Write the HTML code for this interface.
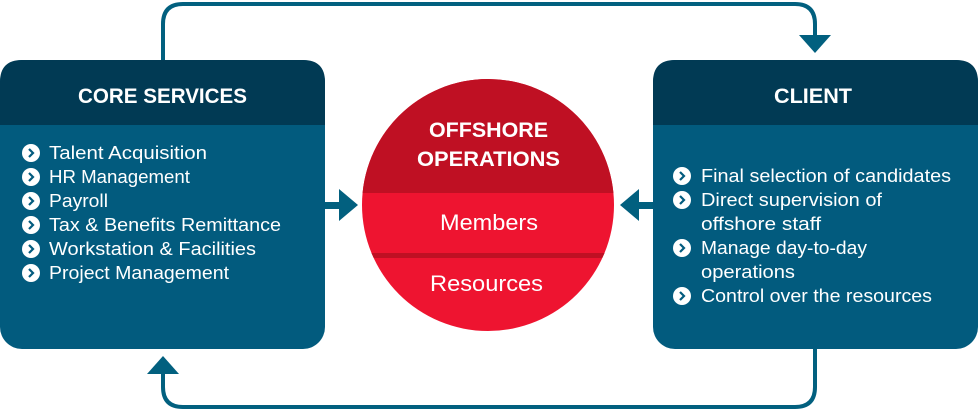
<!DOCTYPE html>
<html><head><meta charset="utf-8"><style>
html,body{margin:0;padding:0;background:#fff;}
svg{display:block;}
text{font-family:"Liberation Sans",sans-serif;fill:#fff;}
.h{font-weight:bold;font-size:21px;}
.i{font-size:18px;}
</style></head><body>
<svg width="978" height="411" viewBox="0 0 978 411" xmlns="http://www.w3.org/2000/svg">
<defs>
<clipPath id="c"><circle cx="488" cy="205" r="126"/></clipPath>
<g id="chev"><circle r="9" fill="#fff"/><path d="M-2,-4 L2,0 L-2,4" stroke="#025b7e" stroke-width="2.2" fill="none"/></g>
</defs>
<path d="M163,60 V24 Q163,4 183,4 H795 Q815,4 815,24 V36" stroke="#02607f" stroke-width="4" fill="none"/>
<polygon points="799,35 831,35 815,53" fill="#02607f"/>
<path d="M815,349 V387 Q815,407 795,407 H183 Q163,407 163,387 V373" stroke="#02607f" stroke-width="4" fill="none"/>
<polygon points="147,374 179,374 163,356" fill="#02607f"/>
<rect x="0" y="60" width="325" height="289" rx="22" fill="#025b7e"/>
<path d="M0,125 V82 Q0,60 22,60 H303 Q325,60 325,82 V125 Z" fill="#013a54"/>
<text class="h" x="78" y="103" textLength="169" lengthAdjust="spacingAndGlyphs">CORE SERVICES</text>
<use href="#chev" x="31" y="153"/><text class="i" x="49" y="159" textLength="158" lengthAdjust="spacingAndGlyphs">Talent Acquisition</text>
<use href="#chev" x="31" y="177"/><text class="i" x="49" y="183" textLength="141" lengthAdjust="spacingAndGlyphs">HR Management</text>
<use href="#chev" x="31" y="201"/><text class="i" x="49" y="207" textLength="59" lengthAdjust="spacingAndGlyphs">Payroll</text>
<use href="#chev" x="31" y="225"/><text class="i" x="49" y="231" textLength="232" lengthAdjust="spacingAndGlyphs">Tax &amp; Benefits Remittance</text>
<use href="#chev" x="31" y="249"/><text class="i" x="49" y="255" textLength="207" lengthAdjust="spacingAndGlyphs">Workstation &amp; Facilities</text>
<use href="#chev" x="31" y="273"/><text class="i" x="49" y="279" textLength="180" lengthAdjust="spacingAndGlyphs">Project Management</text>
<rect x="653" y="60" width="325" height="289" rx="22" fill="#025b7e"/>
<path d="M653,125 V82 Q653,60 675,60 H956 Q978,60 978,82 V125 Z" fill="#013a54"/>
<text class="h" x="774" y="103" textLength="78" lengthAdjust="spacingAndGlyphs">CLIENT</text>
<use href="#chev" x="682" y="176"/><text class="i" x="701" y="182" textLength="250" lengthAdjust="spacingAndGlyphs">Final selection of candidates</text>
<use href="#chev" x="682" y="200"/><text class="i" x="701" y="206" textLength="181" lengthAdjust="spacingAndGlyphs">Direct supervision of</text>
<text class="i" x="701" y="230" textLength="120" lengthAdjust="spacingAndGlyphs">offshore staff</text>
<use href="#chev" x="682" y="248"/><text class="i" x="701" y="254" textLength="166" lengthAdjust="spacingAndGlyphs">Manage day-to-day</text>
<text class="i" x="701" y="278" textLength="94" lengthAdjust="spacingAndGlyphs">operations</text>
<use href="#chev" x="682" y="296"/><text class="i" x="701" y="302" textLength="231" lengthAdjust="spacingAndGlyphs">Control over the resources</text>
<rect x="325" y="202" width="18" height="7" fill="#02607f"/>
<polygon points="339,189 358,205 339,221" fill="#02607f"/>
<rect x="635" y="202" width="18" height="7" fill="#02607f"/>
<polygon points="639,189 620,205 639,221" fill="#02607f"/>
<g clip-path="url(#c)">
<rect x="360" y="75" width="260" height="260" fill="#ee1430"/>
<rect x="360" y="75" width="260" height="118" fill="#bf1023"/>
<rect x="360" y="253" width="260" height="5" fill="#bf1023"/>
</g>
<text class="h" x="429" y="137" textLength="119" lengthAdjust="spacingAndGlyphs">OFFSHORE</text>
<text class="h" x="417" y="166" textLength="143" lengthAdjust="spacingAndGlyphs">OPERATIONS</text>
<text x="440" y="230" textLength="98" lengthAdjust="spacingAndGlyphs" style="font-size:22px">Members</text>
<text x="430" y="291" textLength="113" lengthAdjust="spacingAndGlyphs" style="font-size:22px">Resources</text>
</svg>
</body></html>
